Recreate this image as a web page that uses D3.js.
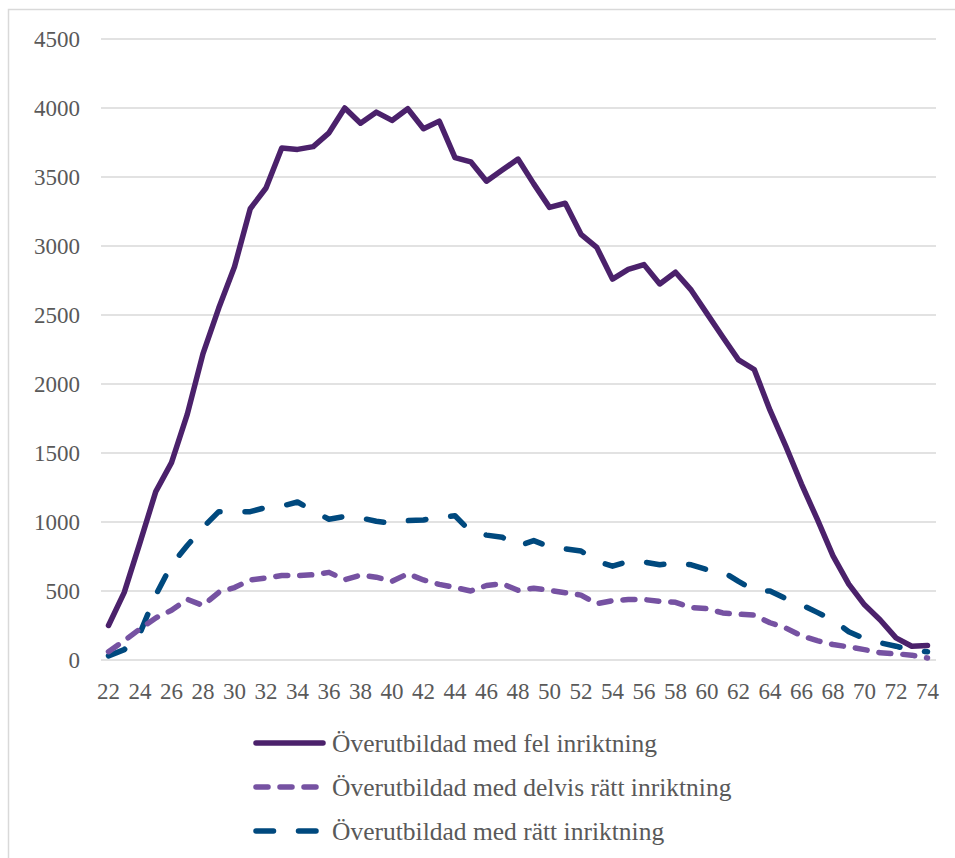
<!DOCTYPE html>
<html>
<head>
<meta charset="utf-8">
<script src="https://cdn.jsdelivr.net/npm/d3@7"></script>
<style>
  body { margin: 0; background: #fff; }
  svg { display: block; }
  text { font-family: "Liberation Serif", "DejaVu Serif", serif; fill: #595959; }
</style>
</head>
<body>
<div id="chart"></div>
<script>
// ages on the x axis (22..74)
var ages = d3.range(22, 75);
var tickAges = ages.filter(function(a) { return a % 2 == 0; });
var yTicks = [0, 500, 1000, 1500, 2000, 2500, 3000, 3500, 4000, 4500];

// values
var felInriktning = [250, 490, 850, 1220, 1430, 1780, 2220, 2550, 2850, 3270,
  3420, 3710, 3700, 3720, 3820, 4000, 3890, 3970, 3910, 3995,
  3850, 3905, 3640, 3610, 3470, 3550, 3630, 3450, 3280, 3310,
  3085, 2990, 2760, 2830, 2865, 2725, 2810, 2680, 2510, 2340,
  2175, 2105, 1810, 1550, 1275, 1020, 755, 550, 400, 290,
  160, 100, 105];
var delvisRatt = [60, 140, 225, 305, 360, 440, 395, 490, 525, 580,
  595, 612, 612, 618, 635, 582, 615, 600, 570, 625,
  580, 548, 525, 500, 540, 553, 505, 520, 505, 488,
  470, 408, 430, 438, 438, 425, 418, 380, 372, 341,
  332, 325, 270, 232, 175, 140, 112, 95, 75, 52,
  45, 35, 14];
var rattInriktning = [30, 75, 195, 470, 690, 830, 960, 1075, 1075, 1075,
  1105, 1115, 1145, 1080, 1020, 1040, 1030, 1005, 990, 1010,
  1015, 1035, 1045, 930, 905, 890, 825, 865, 820, 805,
  790, 715, 680, 715, 710, 690, 705, 690, 655, 640,
  570, 505, 500, 445, 400, 345, 290, 205, 155, 125,
  100, 70, 60];

var seriesNames = ["Överutbildad med fel inriktning",
  "Överutbildad med delvis rätt inriktning",
  "Överutbildad med rätt inriktning"];
var seriesColors = ["#4b216b", "#7652a2", "#00497e"];
var seriesDash = [null, "12,12", "17.5,25"];
var seriesValues = [felInriktning, delvisRatt, rattInriktning];

var width = 955, height = 858;
var svg = d3.select("#chart").append("svg")
  .attr("width", width)
  .attr("height", height);

// chart frame
svg.append("rect")
  .attr("x", 8.5).attr("y", 9.5)
  .attr("width", 980).attr("height", 900)
  .attr("fill", "none")
  .attr("stroke", "#d9d9d9")
  .attr("stroke-width", 1.5);

var x = d3.scalePoint().domain(ages).range([108.5, 927.5]);
var y = d3.scaleLinear().domain([0, 4500]).range([660, 39]);
var plotLeft = 101, plotRight = 936;

// gridlines
svg.append("g")
  .selectAll("line")
  .data(yTicks)
  .enter().append("line")
  .attr("x1", plotLeft).attr("x2", plotRight)
  .attr("y1", function(d) { return y(d); })
  .attr("y2", function(d) { return y(d); })
  .attr("stroke", "#d9d9d9")
  .attr("stroke-width", 1.5);

// y labels
svg.append("g")
  .selectAll("text")
  .data(yTicks)
  .enter().append("text")
  .attr("x", 80)
  .attr("y", function(d) { return y(d) + 8; })
  .attr("text-anchor", "end")
  .style("font-size", "23px")
  .text(function(d) { return d; });

// x labels
svg.append("g")
  .selectAll("text")
  .data(tickAges)
  .enter().append("text")
  .attr("x", function(d) { return x(d); })
  .attr("y", 699)
  .attr("text-anchor", "middle")
  .style("font-size", "23px")
  .text(function(d) { return d; });

var line = d3.line()
  .x(function(d, i) { return x(ages[i]); })
  .y(function(d) { return y(d); });

// draw back to front: rätt, delvis, fel
[2, 1, 0].forEach(function(s) {
  svg.append("path")
    .datum(seriesValues[s])
    .attr("d", line)
    .attr("fill", "none")
    .attr("stroke", seriesColors[s])
    .attr("stroke-width", 5.5)
    .attr("stroke-linejoin", "round")
    .attr("stroke-linecap", "round")
    .attr("stroke-dasharray", seriesDash[s]);
});

// legend
var legend = svg.append("g")
  .selectAll("g")
  .data(seriesNames)
  .enter().append("g")
  .attr("transform", function(d, i) { return "translate(0," + (743 + i * 44) + ")"; });

legend.append("line")
  .attr("x1", 256).attr("x2", 323)
  .attr("y1", 0).attr("y2", 0)
  .attr("stroke", function(d, i) { return seriesColors[i]; })
  .attr("stroke-width", 5.5)
  .attr("stroke-linecap", "round")
  .attr("stroke-dasharray", function(d, i) { return seriesDash[i]; });

legend.append("text")
  .attr("x", 332)
  .attr("y", 9)
  .style("font-size", "25.5px")
  .text(function(d) { return d; });
</script>
</body>
</html>
